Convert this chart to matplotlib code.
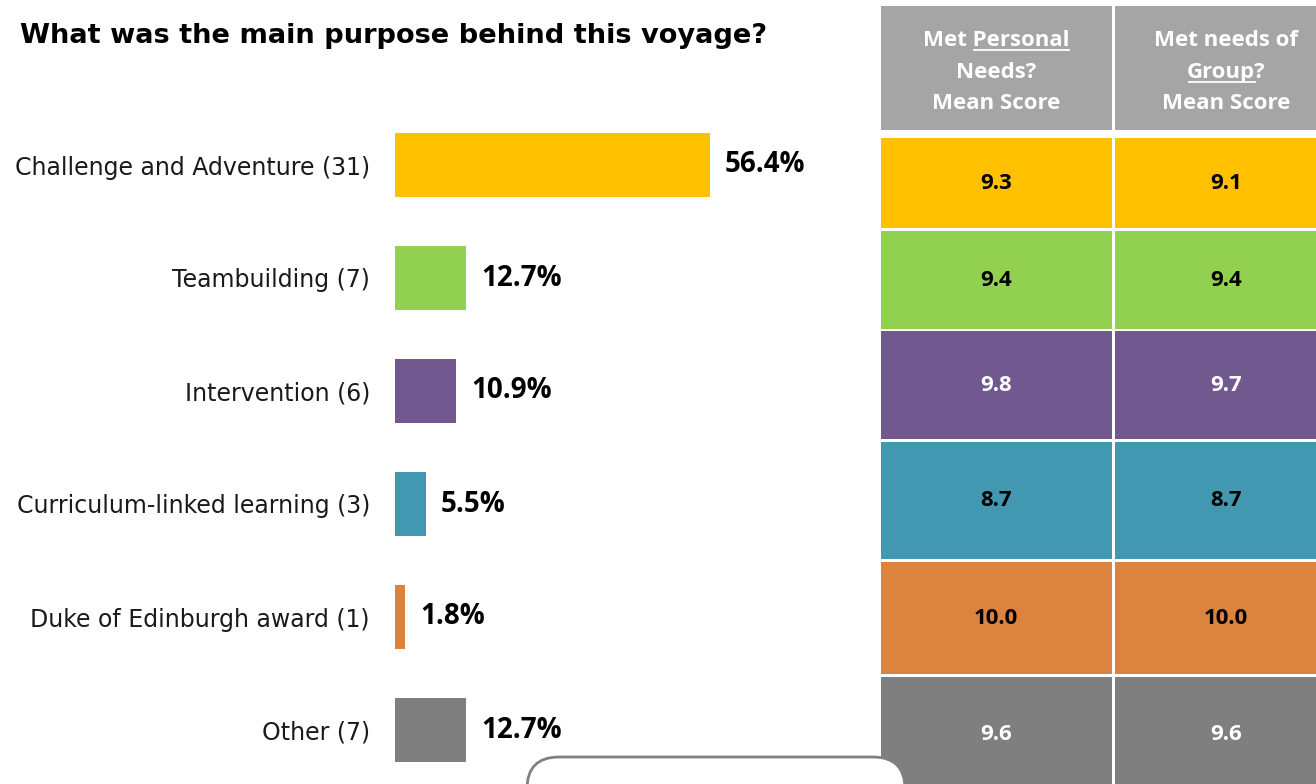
import matplotlib
matplotlib.use("Agg")
import matplotlib.pyplot as plt
from matplotlib.patches import Rectangle, FancyBboxPatch

categories = ["Challenge and Adventure (31)", "Teambuilding (7)", "Intervention (6)",
              "Curriculum-linked learning (3)", "Duke of Edinburgh award (1)", "Other (7)"]
percent = [56.4, 12.7, 10.9, 5.5, 1.8, 12.7]
personal_score = [9.3, 9.4, 9.8, 8.7, 10.0, 9.6]
group_score = [9.1, 9.4, 9.7, 8.7, 10.0, 9.6]
colors = ["#FFC000", "#92D050", "#71588F", "#4298B0", "#DB833F", "#7F7F7F"]
score_text = ["black", "black", "white", "black", "black", "white"]

W, H = 1316, 784
fig = plt.figure(figsize=(W / 100, H / 100), dpi=100)

# bar chart part
bar_left, bar_right, bar_top = 395, 880, 108.5
row_gap = 113
px_per_pct = 315 / 56.4
ax = fig.add_axes([bar_left / W, 0, (bar_right - bar_left) / W, 1 - bar_top / H])
ax.barh(range(len(percent)), percent, height=64 / row_gap, color=colors)
ax.set_xlim(0, (bar_right - bar_left) / px_per_pct)
ax.set_ylim(5 + (H - 730) / row_gap, -0.5)
ax.set_yticks(range(len(categories)))
ax.set_yticklabels(categories, fontsize=17, color="#1a1a1a", family="DejaVu Sans")
ax.tick_params(axis="y", length=0, pad=18)
ax.set_xticks([])
for s in ax.spines.values():
    s.set_visible(False)
for i, v in enumerate(percent):
    ax.annotate(f"{v}%", (v, i), xytext=(15, 0), textcoords="offset pixels",
                ha="left", va="center", fontsize=20, fontweight="bold",
                family="Open Sans")

# table on the right, drawn in pixel coordinates
tax = fig.add_axes([0, 0, 1, 1], zorder=2)
tax.set_xlim(0, W)
tax.set_ylim(H, 0)
tax.axis("off")
tax.patch.set_alpha(0)

cols = [(881, 1112), (1115, 1338)]
col_cx = [996, 1226]
row_tops = [138, 231, 331, 442, 562, 677]
row_bots = [228, 329, 439, 559, 674, 790]

for (x0, x1) in cols:
    tax.add_patch(Rectangle((x0, 6), x1 - x0, 124, color="#A5A5A5", lw=0))

for i in range(len(personal_score)):
    y0, y1 = row_tops[i], row_bots[i]
    for j, val in enumerate([personal_score[i], group_score[i]]):
        x0, x1 = cols[j]
        tax.add_patch(Rectangle((x0, y0), x1 - x0, y1 - y0, color=colors[i], lw=0))
        tax.text(col_cx[j], (y0 + min(y1, H)) / 2 if i < 5 else 735, f"{val:.1f}",
                 ha="center", va="center", fontsize=16, fontweight="bold",
                 family="Open Sans", color=score_text[i])

hdr = dict(fontsize=16, fontweight="bold", family="Open Sans", color="white")
renderer = fig.canvas.get_renderer()


def text_width(s):
    t = tax.text(0, 0, s, **hdr)
    w = t.get_window_extent(renderer).width
    t.remove()
    return w


def header_line(x, y, s, underline=None, prefix=False):
    tax.text(x, y, s, ha="center", va="baseline", **hdr)
    if underline is None:
        return
    full = text_width(s)
    left = x - full / 2
    uw = text_width(underline)
    if prefix:
        u0 = left + 2
    else:
        u0 = left + full - uw + 2
    tax.plot([u0, u0 + uw - 2], [y + 4, y + 4], color="white", lw=1.3)


header_line(col_cx[0], 46, "Met Personal", underline="Personal")
header_line(col_cx[0], 78, "Needs?")
header_line(col_cx[0], 109, "Mean Score")
header_line(col_cx[1], 46, "Met needs of")
header_line(col_cx[1], 78, "Group?", underline="Group", prefix=True)
header_line(col_cx[1], 109, "Mean Score")

# rounded box peeking in at the bottom
tax.add_patch(FancyBboxPatch((527, 757), 378, 80,
                             boxstyle="round,pad=0,rounding_size=32",
                             facecolor="white", edgecolor="#808080", lw=2, zorder=5))

fig.text(20 / W, 1 - 36 / H, "What was the main purpose behind this voyage?",
         fontsize=19.6, fontweight="bold", family="DejaVu Sans", va="center", ha="left")

fig.savefig("out.png", dpi=100)
